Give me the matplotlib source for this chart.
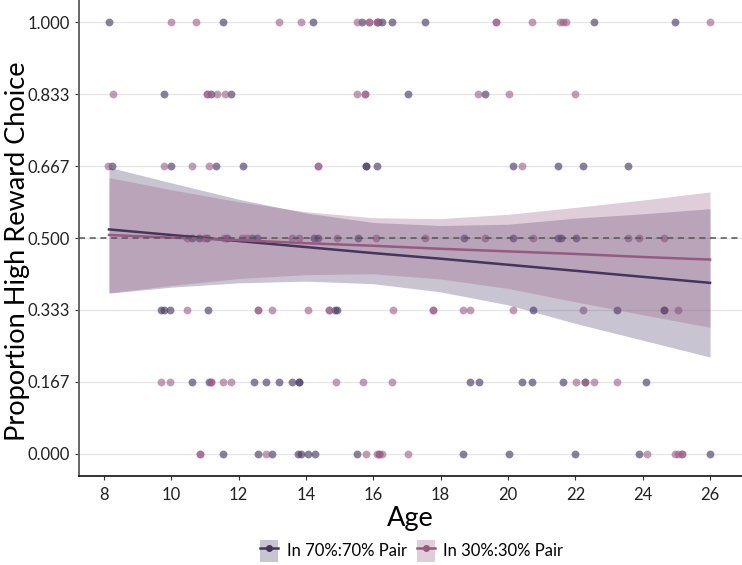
import matplotlib.pyplot as plt
from matplotlib.patches import Patch
from matplotlib.lines import Line2D
import numpy as np

plt.rcParams['font.family'] = ['Lato', 'DejaVu Sans']

# observed proportions, read off the chart: ages at each response level
# "In 70%:70% Pair"
age70_1000 = [8.14, 11.53, 14.22, 15.67, 16.15, 16.25, 16.56, 17.55, 22.55, 24.96]
age70_0833 = [9.77, 11.17, 11.76, 17.04, 19.32]
age70_0667 = [8.25, 9.98, 11.32, 12.13, 15.79, 15.79, 16.10, 20.16, 21.48, 22.24, 23.55]
age70_0500 = [10.63, 10.82, 11.07, 11.64, 12.40, 12.54, 14.24, 14.36, 15.55, 18.70,
              20.16, 21.50, 21.56, 22.02]
age70_0333 = [9.70, 9.77, 9.96, 11.08, 14.85, 14.92, 20.75, 23.24, 24.64, 24.64]
age70_0167 = [10.61, 11.11, 12.46, 12.80, 13.21, 13.59, 13.79, 13.79, 18.88, 19.13,
              20.41, 20.71, 21.62, 22.29, 24.11]
age70_0000 = [11.54, 12.59, 13.00, 13.77, 13.84, 14.06, 14.27, 15.53, 18.65, 20.02,
              21.99, 23.90, 26.00]

# "In 30%:30% Pair"
age30_1000 = [9.98, 10.72, 13.21, 13.84, 15.53, 15.88, 15.88, 16.10, 16.10, 19.65,
              19.65, 20.70, 21.54, 21.64, 21.72, 26.00]
age30_0833 = [8.27, 11.05, 11.05, 11.35, 11.60, 15.53, 15.75, 15.75, 19.12, 20.03, 21.99]
age30_0667 = [8.13, 9.78, 10.62, 11.12, 14.36, 14.36, 20.41]
age30_0500 = [10.46, 10.96, 11.56, 12.10, 12.24, 13.59, 13.79, 14.93, 16.07, 17.55,
              19.32, 20.75, 23.55, 23.90, 24.63]
age30_0333 = [10.46, 12.57, 12.57, 12.98, 14.06, 14.68, 14.68, 16.58, 17.78, 17.78,
              18.65, 18.88, 20.16, 22.24, 25.06]
age30_0167 = [9.69, 9.96, 11.17, 11.17, 11.53, 11.77, 14.88, 15.70, 16.55, 22.03,
              22.29, 22.55, 23.24]
age30_0000 = [10.85, 10.85, 12.80, 15.78, 16.10, 16.18, 16.18, 16.27, 17.04, 24.12,
              24.96, 25.06, 25.16, 25.16]

levels = [1.0, 5 / 6, 4 / 6, 0.5, 2 / 6, 1 / 6, 0.0]
ticklabels = ["1.000", "0.833", "0.667", "0.500", "0.333", "0.167", "0.000"]

# fitted lines and confidence ribbons
band_age = [8.15, 10, 12, 14, 16, 18, 20, 22, 24, 26]
fit70 = [0.520, 0.507, 0.493, 0.479, 0.465, 0.452, 0.438, 0.424, 0.410, 0.396]
lo70 = [0.372, 0.386, 0.396, 0.400, 0.394, 0.375, 0.345, 0.302, 0.263, 0.224]
hi70 = [0.664, 0.628, 0.590, 0.558, 0.536, 0.529, 0.532, 0.546, 0.556, 0.568]
fit30 = [0.507, 0.501, 0.495, 0.488, 0.482, 0.475, 0.469, 0.463, 0.456, 0.450]
lo30 = [0.373, 0.390, 0.406, 0.415, 0.417, 0.405, 0.383, 0.352, 0.322, 0.293]
hi30 = [0.640, 0.612, 0.584, 0.561, 0.547, 0.545, 0.555, 0.571, 0.588, 0.607]

col70 = "#4a3d68"
col30 = "#9b5b86"
line70 = "#45355c"
line30 = "#955a80"

fig = plt.figure(figsize=(7.42, 5.65), dpi=100)
ax = fig.add_axes([0.1065, 0.1575, 0.8935, 0.8425])

rows70 = [age70_1000, age70_0833, age70_0667, age70_0500, age70_0333, age70_0167, age70_0000]
rows30 = [age30_1000, age30_0833, age30_0667, age30_0500, age30_0333, age30_0167, age30_0000]
for lev, a70, a30 in zip(levels, rows70, rows30):
    ax.scatter(a70, [lev] * len(a70), s=32, color=col70, alpha=0.65, linewidths=0, zorder=2)
    ax.scatter(a30, [lev] * len(a30), s=32, color=col30, alpha=0.6, linewidths=0, zorder=2)

ax.fill_between(band_age, lo70, hi70, color=col70, alpha=0.3, linewidth=0, zorder=3)
ax.fill_between(band_age, lo30, hi30, color=col30, alpha=0.3, linewidth=0, zorder=3)
ax.plot(band_age, fit70, color=line70, lw=1.8, zorder=4)
ax.plot(band_age, fit30, color=line30, lw=1.8, zorder=4)

ax.axhline(0.5, color="#555555", lw=1.1, ls=(0, (4, 3)), zorder=5)

for lev in levels:
    ax.axhline(lev, color="#e6e6e6", lw=0.9, zorder=1)

ax.set_xlim(7.26, 26.95)
ax.set_ylim(-0.052, 1.052)
ax.set_xticks([8, 10, 12, 14, 16, 18, 20, 22, 24, 26])
ax.set_yticks(levels)
ax.set_yticklabels(ticklabels)
ax.tick_params(axis="both", labelsize=12, colors="#333333", length=3, width=0.8)
ax.tick_params(axis="both", labelcolor="#222222")
ax.tick_params(axis="x", pad=5)

for s in ["top", "right"]:
    ax.spines[s].set_visible(False)
ax.spines["left"].set_color("#666666")
ax.spines["left"].set_linewidth(1.4)
ax.spines["bottom"].set_color("#111111")
ax.spines["bottom"].set_linewidth(1.2)

ax.set_xlabel("Age", fontsize=19.5)
ax.xaxis.set_label_coords(0.5, -0.062)
ax.set_ylabel("Proportion High Reward Choice", fontsize=19.5)
ax.yaxis.set_label_coords(-0.074, 0.472)

h70 = (Patch(facecolor=col70, alpha=0.3, edgecolor="none"),
       Line2D([], [], color=line70, lw=1.8, marker="o", markersize=4))
h30 = (Patch(facecolor=col30, alpha=0.3, edgecolor="none"),
       Line2D([], [], color=line30, lw=1.8, marker="o", markersize=4))
fig.legend([h70, h30], ["In 70%:70% Pair", "In 30%:30% Pair"], loc="center",
           bbox_to_anchor=(0.555, 0.025), ncol=2, frameon=False, fontsize=12,
           handlelength=1.1, handleheight=1.6, handletextpad=0.5, columnspacing=0.6)

fig.savefig("out.png", dpi=100)
